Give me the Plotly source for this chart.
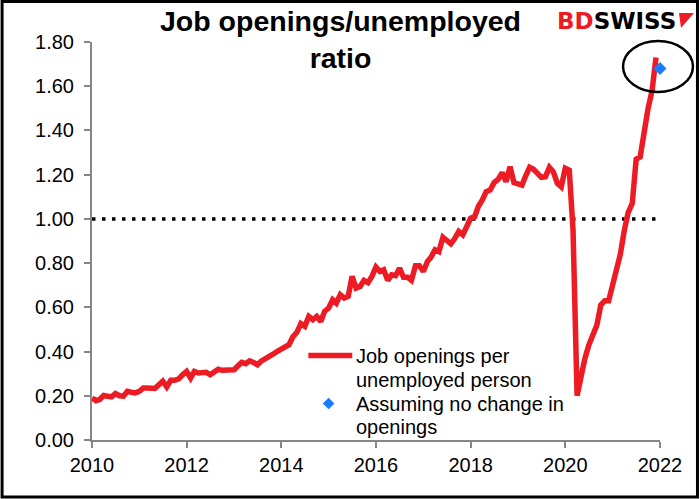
import pandas as pd
import plotly.graph_objects as go

# ---- data ----
months = pd.date_range("2010-01-01", periods=144, freq="MS")
ratio = [
    # 2010
    0.19, 0.178, 0.183, 0.201, 0.198, 0.195, 0.21, 0.20, 0.198, 0.22, 0.216, 0.213,
    # 2011
    0.22, 0.235, 0.235, 0.234, 0.233, 0.25, 0.266, 0.24, 0.27, 0.27, 0.276, 0.295,
    # 2012
    0.31, 0.28, 0.31, 0.303, 0.306, 0.306, 0.295, 0.31, 0.32, 0.315, 0.318, 0.318,
    # 2013
    0.318, 0.336, 0.351, 0.345, 0.358, 0.351, 0.34, 0.358, 0.367, 0.378, 0.389, 0.401,
    # 2014
    0.411, 0.426, 0.431, 0.468, 0.487, 0.526, 0.514, 0.559, 0.544, 0.559, 0.536, 0.582,
    # 2015
    0.597, 0.634, 0.619, 0.657, 0.642, 0.65, 0.74, 0.687, 0.694, 0.722, 0.712, 0.74,
    # 2016
    0.782, 0.762, 0.77, 0.722, 0.747, 0.743, 0.777, 0.736, 0.736, 0.722, 0.788, 0.788,
    # 2017
    0.762, 0.807, 0.827, 0.86, 0.852, 0.917, 0.905, 0.887, 0.912, 0.943, 0.928, 0.973,
    # 2018
    1.003, 1.01, 1.056, 1.086, 1.123, 1.131, 1.164, 1.179, 1.209, 1.168, 1.236, 1.164,
    # 2019
    1.158, 1.153, 1.194, 1.233, 1.224, 1.206, 1.188, 1.191, 1.233, 1.213, 1.16, 1.145,
    # 2020
    1.229, 1.22, 0.95, 0.20, 0.30, 0.37, 0.43, 0.48, 0.52, 0.61, 0.63, 0.63,
    # 2021
    0.70, 0.755, 0.84, 0.95, 1.03, 1.07, 1.27, 1.28, 1.40, 1.50, 1.58, 1.73,
]
assumed_date = ["2022-01-01"]
assumed_value = [1.68]
reference_level = 1.0

series_label = ["Job openings per", "unemployed person"]
assumed_label = ["Assuming no change in", "openings"]
title_text = "Job openings/unemployed<br>ratio"

FONT = "Liberation Sans, Arial, sans-serif"
RED = "#ED1C24"
BLUE = "#1A7CFF"
AXIS = "#868686"

# plot-area geometry in pixels (for paper-coordinate decorations)
W, H = 700, 499
L, R, T, B = 91.5, 40, 42, 58.5
PW, PH = W - L - R, H - T - B


def px(x):
    return (x - L) / PW


def py(y):
    return (H - B - y) / PH


fig = go.Figure()

fig.add_trace(go.Scatter(
    x=[months[0], months[-1]], y=[reference_level, reference_level],
    mode="lines", line=dict(color="black", width=3.5, dash="3.5px,6.5px"),
    showlegend=False, hoverinfo="skip",
))

fig.add_trace(go.Scatter(
    x=months, y=ratio, mode="lines", name=" ".join(series_label),
    line=dict(color=RED, width=5.5), showlegend=False,
))

fig.add_trace(go.Scatter(
    x=assumed_date, y=assumed_value, mode="markers", name=" ".join(assumed_label),
    marker=dict(symbol="diamond", size=10, color=BLUE),
    cliponaxis=False, showlegend=False,
))

fig.update_layout(
    width=W, height=H,
    margin=dict(l=L, r=R, t=T, b=B),
    paper_bgcolor="white", plot_bgcolor="white",
    font=dict(family=FONT, size=20, color="black"),
    showlegend=False,
    xaxis=dict(
        type="date", range=["2010-01-01", "2022-01-01"],
        tick0="2010-01-01", dtick="M24", tickformat="%Y",
        showgrid=False, zeroline=False,
        showline=True, linecolor=AXIS, linewidth=2,
        ticks="outside", ticklen=6, tickwidth=2, tickcolor=AXIS,
        tickfont=dict(size=20, family=FONT),
    ),
    yaxis=dict(
        range=[0, 1.8], tick0=0, dtick=0.2, tickformat=".2f",
        showgrid=False, zeroline=False,
        showline=True, linecolor=AXIS, linewidth=2,
        ticks="outside", ticklen=6, tickwidth=2, tickcolor=AXIS,
        tickfont=dict(size=20, family=FONT),
        ticklabelstandoff=6,
    ),
)

# title
fig.add_annotation(
    text="<b>" + title_text + "</b>", xref="paper", yref="paper",
    x=px(340.5), y=py(3), xanchor="center", yanchor="top",
    showarrow=False, font=dict(size=28.5, family=FONT, color="black"),
)

# legend (drawn manually to match the reference spacing)
fig.add_shape(
    type="line", xref="paper", yref="paper",
    x0=px(308), x1=px(352), y0=py(356), y1=py(356),
    line=dict(color=RED, width=5.5),
)
d = 5.8
cx, cy = 328.3, 404
fig.add_shape(
    type="path", xref="paper", yref="paper",
    path=(f"M {px(cx)} {py(cy - d)} L {px(cx + d)} {py(cy)} "
          f"L {px(cx)} {py(cy + d)} L {px(cx - d)} {py(cy)} Z"),
    fillcolor=BLUE, line=dict(width=0),
)
for txt, yy in zip(series_label + assumed_label, [356.5, 380, 404, 427.5]):
    fig.add_annotation(
        text=txt, xref="paper", yref="paper", x=px(354), y=py(yy),
        xanchor="left", yanchor="middle", showarrow=False,
        font=dict(size=20, family=FONT, color="black"),
    )

# logo text
fig.add_annotation(
    text="<b><span style='color:#ED1C24'>BD</span>SWISS</b>",
    xref="paper", yref="paper", x=px(678), y=py(21), xanchor="right", yanchor="middle",
    showarrow=False, font=dict(size=23, family="DejaVu Sans", color="black"),
)
# logo arrow icon
fig.add_shape(
    type="path", xref="paper", yref="paper",
    path=f"M {px(679)} {py(13)} L {px(694)} {py(13)} L {px(681)} {py(28)} Z",
    fillcolor=RED, line=dict(width=0),
)

# highlight ellipse
fig.add_shape(
    type="circle", xref="paper", yref="paper",
    x0=px(623), x1=px(693), y0=py(92), y1=py(41),
    line=dict(color="black", width=2.5),
)

# outer frame
fig.add_shape(
    type="rect", xref="paper", yref="paper",
    x0=px(1.5), x1=px(697.5), y0=py(497.5), y1=py(1.5),
    line=dict(color="black", width=3),
)

fig.write_html(
    "out.html",
    config={"displayModeBar": False},
    post_script="document.body.style.margin='0px';",
)
